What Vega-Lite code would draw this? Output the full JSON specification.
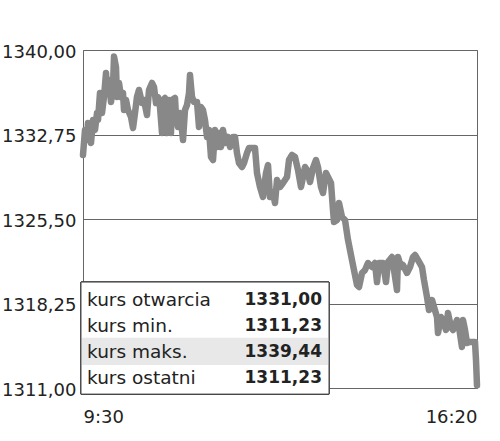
{
  "$schema": "https://vega.github.io/schema/vega-lite/v6.json",
  "width": 394,
  "height": 338,
  "autosize": {"type": "none"},
  "padding": {"left": 83, "top": 50, "right": 23, "bottom": 53},
  "background": "white",
  "config": {
    "locale": {"number": {"decimal": ",", "thousands": " ", "grouping": [3], "currency": ["", " zł"]}},
    "view": {"stroke": "#666", "strokeWidth": 1},
    "axis": {"labelFont": "DejaVu Sans", "labelFontSize": 18, "labelColor": "#222", "title": null, "ticks": false, "domain": false}
  },
  "resolve": {"scale": {"y": "independent"}},
  "layer": [
    {
      "data": {
        "format": {"parse": {"t": "date:'%H:%M:%S'"}},
        "values": [
          {"t":"09:30:00","v":1331.00},{"t":"09:32:05","v":1333.14},{"t":"09:34:10","v":1332.28},{"t":"09:35:12","v":1333.74},
          {"t":"09:38:20","v":1332.02},{"t":"09:40:25","v":1333.99},{"t":"09:42:29","v":1333.14},{"t":"09:44:34","v":1334.59},
          {"t":"09:45:37","v":1333.99},{"t":"09:47:41","v":1336.31},{"t":"09:49:46","v":1334.59},{"t":"09:51:51","v":1335.97},
          {"t":"09:53:56","v":1338.03},{"t":"09:54:58","v":1336.57},{"t":"09:57:04","v":1337.43},{"t":"09:59:08","v":1335.54},
          {"t":"10:01:13","v":1336.83},{"t":"10:02:16","v":1339.44},{"t":"10:04:20","v":1338.54},{"t":"10:05:23","v":1335.97},
          {"t":"10:07:28","v":1337.17},{"t":"10:09:32","v":1335.97},{"t":"10:11:37","v":1336.31},{"t":"10:12:40","v":1334.85},
          {"t":"10:14:45","v":1335.71},{"t":"10:16:50","v":1334.85},{"t":"10:19:57","v":1334.25},{"t":"10:22:02","v":1333.31},
          {"t":"10:24:07","v":1334.59},{"t":"10:26:11","v":1335.97},{"t":"10:28:16","v":1336.57},{"t":"10:31:24","v":1335.45},
          {"t":"10:33:29","v":1335.71},{"t":"10:36:36","v":1334.42},{"t":"10:38:41","v":1336.57},{"t":"10:41:48","v":1337.17},
          {"t":"10:43:53","v":1336.83},{"t":"10:45:58","v":1335.45},{"t":"10:48:03","v":1335.97},{"t":"10:50:08","v":1335.11},
          {"t":"10:52:13","v":1332.88},{"t":"10:53:15","v":1335.71},{"t":"10:55:20","v":1335.88},{"t":"10:57:25","v":1332.88},
          {"t":"10:59:29","v":1335.71},{"t":"11:01:34","v":1332.88},{"t":"11:02:37","v":1335.71},{"t":"11:05:44","v":1335.88},
          {"t":"11:06:47","v":1334.25},{"t":"11:08:52","v":1333.39},{"t":"11:10:56","v":1334.59},{"t":"11:13:01","v":1333.14},
          {"t":"11:14:04","v":1332.28},{"t":"11:16:08","v":1334.85},{"t":"11:18:13","v":1335.28},{"t":"11:20:18","v":1336.31},
          {"t":"11:21:20","v":1337.85},{"t":"11:23:26","v":1335.97},{"t":"11:25:31","v":1335.54},{"t":"11:28:38","v":1335.54},
          {"t":"11:30:43","v":1333.39},{"t":"11:32:47","v":1335.11},{"t":"11:34:52","v":1334.85},{"t":"11:36:57","v":1333.99},
          {"t":"11:39:02","v":1332.54},{"t":"11:41:07","v":1333.14},{"t":"11:43:12","v":1330.82},{"t":"11:45:17","v":1330.56},
          {"t":"11:47:22","v":1333.14},{"t":"11:49:26","v":1331.68},{"t":"11:51:31","v":1332.88},{"t":"11:53:36","v":1331.68},
          {"t":"11:55:41","v":1333.14},{"t":"11:57:46","v":1332.02},{"t":"12:00:53","v":1332.54},{"t":"12:02:58","v":1331.68},
          {"t":"12:06:05","v":1332.54},{"t":"12:08:10","v":1332.54},{"t":"12:10:15","v":1331.16},{"t":"12:12:20","v":1330.30},
          {"t":"12:15:28","v":1329.96},{"t":"12:17:32","v":1330.30},{"t":"12:20:40","v":1331.16},{"t":"12:22:44","v":1331.59},
          {"t":"12:28:59","v":1331.59},{"t":"12:31:04","v":1329.45},{"t":"12:34:11","v":1328.25},{"t":"12:37:19","v":1327.39},
          {"t":"12:40:26","v":1329.45},{"t":"12:42:31","v":1330.13},{"t":"12:44:35","v":1327.39},{"t":"12:47:43","v":1327.73},
          {"t":"12:49:48","v":1326.87},{"t":"12:51:53","v":1328.85},{"t":"12:55:00","v":1328.25},{"t":"12:58:07","v":1328.59},
          {"t":"13:02:17","v":1329.10},{"t":"13:04:22","v":1330.56},{"t":"13:07:29","v":1330.99},{"t":"13:10:37","v":1330.82},
          {"t":"13:13:44","v":1329.70},{"t":"13:16:51","v":1328.25},{"t":"13:18:56","v":1329.10},{"t":"13:21:01","v":1329.96},
          {"t":"13:23:05","v":1329.70},{"t":"13:26:13","v":1328.67},{"t":"13:29:20","v":1329.88},{"t":"13:32:28","v":1330.56},
          {"t":"13:34:32","v":1329.96},{"t":"13:37:40","v":1328.25},{"t":"13:39:44","v":1327.73},{"t":"13:42:52","v":1329.45},
          {"t":"13:44:57","v":1329.10},{"t":"13:48:04","v":1328.59},{"t":"13:50:09","v":1326.27},{"t":"13:51:11","v":1325.24},
          {"t":"13:54:19","v":1325.41},{"t":"13:56:23","v":1326.87},{"t":"13:59:31","v":1325.67},{"t":"14:02:38","v":1325.41},
          {"t":"14:05:46","v":1323.70},{"t":"14:09:55","v":1321.98},{"t":"14:12:00","v":1321.12},{"t":"14:15:07","v":1319.84},
          {"t":"14:17:13","v":1319.67},{"t":"14:20:20","v":1320.87},{"t":"14:23:27","v":1321.12},{"t":"14:26:34","v":1321.72},
          {"t":"14:30:44","v":1321.38},{"t":"14:33:52","v":1321.72},{"t":"14:35:56","v":1320.09},{"t":"14:38:01","v":1321.72},
          {"t":"14:42:11","v":1321.72},{"t":"14:45:18","v":1320.09},{"t":"14:47:23","v":1321.81},{"t":"14:51:33","v":1322.24},
          {"t":"14:53:38","v":1321.12},{"t":"14:56:45","v":1319.41},{"t":"14:57:47","v":1322.24},{"t":"15:00:55","v":1321.38},
          {"t":"15:02:59","v":1321.55},{"t":"15:07:09","v":1320.87},{"t":"15:10:17","v":1321.38},{"t":"15:13:24","v":1322.24},
          {"t":"15:15:29","v":1322.41},{"t":"15:18:36","v":1321.98},{"t":"15:22:46","v":1321.38},{"t":"15:24:50","v":1320.27},
          {"t":"15:27:58","v":1318.81},{"t":"15:30:03","v":1317.69},{"t":"15:33:10","v":1318.55},{"t":"15:35:15","v":1317.95},
          {"t":"15:38:22","v":1317.09},{"t":"15:39:25","v":1315.72},{"t":"15:42:32","v":1317.09},{"t":"15:44:37","v":1316.83},
          {"t":"15:47:44","v":1315.98},{"t":"15:49:49","v":1317.43},{"t":"15:52:56","v":1316.23},{"t":"15:55:01","v":1315.98},
          {"t":"15:59:11","v":1316.83},{"t":"16:01:16","v":1316.23},{"t":"16:04:23","v":1314.52},{"t":"16:05:26","v":1316.83},
          {"t":"16:07:31","v":1315.98},{"t":"16:09:35","v":1314.86},{"t":"16:12:43","v":1314.95},{"t":"16:17:55","v":1314.95},
          {"t":"16:18:58","v":1313.40},{"t":"16:20:00","v":1311.23}
        ]
      },
      "mark": {"type": "line", "color": "#888888", "strokeWidth": 6.5, "strokeJoin": "round", "strokeCap": "round"},
      "encoding": {
        "x": {
          "field": "t", "type": "temporal",
          "scale": {"domain": [{"year":1900,"month":1,"date":1,"hours":9,"minutes":30},{"year":1900,"month":1,"date":1,"hours":16,"minutes":20}]},
          "axis": {
            "values": [{"year":1900,"month":1,"date":1,"hours":9,"minutes":30},{"year":1900,"month":1,"date":1,"hours":16,"minutes":20}],
            "format": "%-H:%M", "labelFlush": true, "grid": false, "labelPadding": 20
          }
        },
        "y": {
          "field": "v", "type": "quantitative",
          "scale": {"domain": [1311, 1340], "nice": false, "zero": false},
          "axis": {
            "values": [1311, 1318.25, 1325.5, 1332.75, 1340],
            "format": ".2f", "grid": true, "gridColor": "#666", "gridWidth": 1,
            "labelPadding": 7, "labelOffset": 2
          }
        }
      }
    },
    {
      "data": {
        "values": [
          {"row": 1, "label": "kurs otwarcia", "value": 1331.00},
          {"row": 2, "label": "kurs min.", "value": 1311.23},
          {"row": 3, "label": "kurs maks.", "value": 1339.44},
          {"row": 4, "label": "kurs ostatni", "value": 1311.23}
        ]
      },
      "layer": [
        {
          "mark": {"type": "rect", "fill": "white", "stroke": "#444", "strokeWidth": 1},
          "encoding": {
            "x": {"datum": {"year":1900,"month":1,"date":1,"hours":9,"minutes":27,"seconds":55}, "type": "temporal"},
            "x2": {"datum": {"year":1900,"month":1,"date":1,"hours":13,"minutes":46}},
            "y": {"datum": 0.31, "type": "quantitative", "scale": {"domain": [-8.615, 4.385], "reverse": true, "nice": false, "zero": false}, "axis": null},
            "y2": {"datum": 4.62}
          }
        },
        {
          "transform": [{"filter": "datum.label === 'kurs maks.'"}],
          "mark": {"type": "rect", "fill": "#e8e8e8"},
          "encoding": {
            "x": {"datum": {"year":1900,"month":1,"date":1,"hours":9,"minutes":29}, "type": "temporal"},
            "x2": {"datum": {"year":1900,"month":1,"date":1,"hours":13,"minutes":45}},
            "y": {"datum": 2.45, "type": "quantitative"},
            "y2": {"datum": 3.5}
          }
        },
        {
          "mark": {"type": "text", "align": "left", "baseline": "middle", "font": "DejaVu Sans", "fontSize": 18.5, "color": "#222"},
          "encoding": {
            "x": {"datum": {"year":1900,"month":1,"date":1,"hours":9,"minutes":34,"seconds":10}, "type": "temporal"},
            "y": {"field": "row", "type": "quantitative"},
            "text": {"field": "label"}
          }
        },
        {
          "mark": {"type": "text", "align": "right", "baseline": "middle", "font": "DejaVu Sans", "fontSize": 17, "fontWeight": "bold", "color": "#222"},
          "encoding": {
            "x": {"datum": {"year":1900,"month":1,"date":1,"hours":13,"minutes":38,"seconds":40}, "type": "temporal"},
            "y": {"field": "row", "type": "quantitative"},
            "text": {"field": "value", "format": ".2f"}
          }
        }
      ]
    }
  ]
}
